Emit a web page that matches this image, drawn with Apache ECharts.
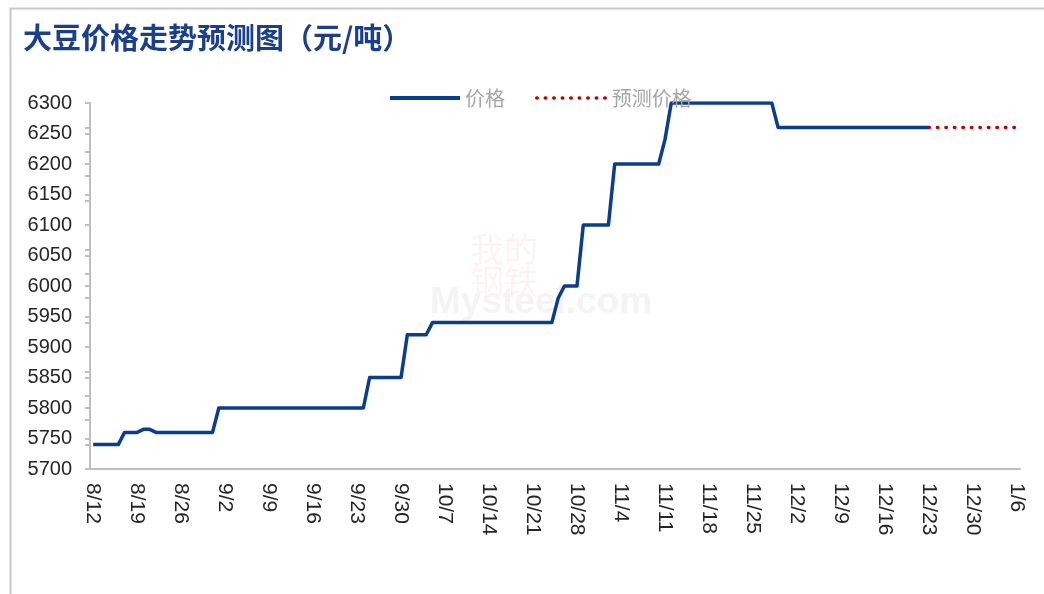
<!DOCTYPE html>
<html>
<head>
<meta charset="utf-8">
<script src="https://cdn.jsdelivr.net/npm/echarts@6/dist/echarts.min.js"></script>
<style>
  html, body { margin: 0; padding: 0; background: #fff; }
  #main { width: 1044px; height: 594px; }
</style>
</head>
<body>
<div id="main"></div>
<script>
// 日期从 2024-08-12 开始，每天一格，到 1/6 为止
var startDate = new Date(2024, 7, 12);
var dayCount = 148;

// 价格（元/吨），8/12 ~ 12/23 每天一个值，每行一周
var price = [
  5740, 5740, 5740, 5740, 5740, 5760, 5760,
  5760, 5765, 5765, 5760, 5760, 5760, 5760,
  5760, 5760, 5760, 5760, 5760, 5760, 5800,
  5800, 5800, 5800, 5800, 5800, 5800, 5800,
  5800, 5800, 5800, 5800, 5800, 5800, 5800,
  5800, 5800, 5800, 5800, 5800, 5800, 5800,
  5800, 5800, 5850, 5850, 5850, 5850, 5850,
  5850, 5920, 5920, 5920, 5920, 5940, 5940,
  5940, 5940, 5940, 5940, 5940, 5940, 5940,
  5940, 5940, 5940, 5940, 5940, 5940, 5940,
  5940, 5940, 5940, 5940, 5980, 6000, 6000,
  6000, 6100, 6100, 6100, 6100, 6100, 6200,
  6200, 6200, 6200, 6200, 6200, 6200, 6200,
  6240, 6300, 6300, 6300, 6300, 6300, 6300,
  6300, 6300, 6300, 6300, 6300, 6300, 6300,
  6300, 6300, 6300, 6300, 6260, 6260, 6260,
  6260, 6260, 6260, 6260, 6260, 6260, 6260,
  6260, 6260, 6260, 6260, 6260, 6260, 6260,
  6260, 6260, 6260, 6260, 6260, 6260, 6260,
  6260
];

// 预测价格，12/23 ~ 1/6
var forecast = [
  6260, 6260, 6260, 6260, 6260, 6260, 6260,
  6260, 6260, 6260, 6260, 6260, 6260, 6260,
  6260
];
var forecastStart = 133;

var yMin = 5700;
var yMax = 6300;
var yStep = 50;

var blue = "#0b3d8f";
var red = "#c00000";

// x轴日期
var days = [];
for (var i = 0; i < dayCount; i++) {
  var d = new Date(startDate.getTime());
  d.setDate(d.getDate() + i);
  days.push((d.getMonth() + 1) + "/" + d.getDate());
}

var forecastData = [];
for (var k = 0; k < dayCount; k++) {
  var j = k - forecastStart;
  forecastData.push(j >= 0 && j < forecast.length ? forecast[j] : null);
}

var myChart = echarts.init(document.getElementById("main"));
myChart.setOption({
  animation: false,
  backgroundColor: "#fff",
  textStyle: { fontFamily: "Liberation Sans, Arial, sans-serif" },
  title: {
    text: "大豆价格走势预测图（元/吨）",
    left: 18,
    top: 18,
    textStyle: {
      fontFamily: "Noto Sans CJK SC",
      fontSize: 29,
      fontWeight: "bold",
      color: "#1b3f8b",
    },
  },
  // 外框 + 水印
  graphic: [
    {
      type: "rect",
      left: 8,
      top: 6,
      shape: { width: 1100, height: 700 },
      style: { fill: null, stroke: "#c8c8c8", lineWidth: 2 },
      silent: true,
    },
    {
      type: "text",
      left: 470,
      top: 232,
      style: {
        text: "我的\n钢铁",
        fill: "#fbf4f4",
        font: "34px 'Noto Sans CJK SC'",
        lineHeight: 32,
      },
      silent: true,
    },
    {
      type: "text",
      left: 430,
      top: 284,
      style: {
        text: "Mysteel.com",
        fill: "#f4f4f4",
        font: "bold 37px 'Liberation Sans'",
      },
      silent: true,
    },
  ],
  legend: {
    left: 383,
    top: 83,
    itemWidth: 70,
    itemHeight: 14,
    itemGap: 30,
    textStyle: {
      fontFamily: "Noto Sans CJK SC",
      fontSize: 20,
      color: "#a6a6a6",
    },
    data: [
      {
        name: "价格",
        itemStyle: { opacity: 0 },
        lineStyle: { color: blue, width: 4 },
      },
      {
        name: "预测价格",
        itemStyle: { opacity: 0 },
        lineStyle: { color: red, width: 3.5, type: [0.5, 8], cap: "round" },
      },
    ],
  },
  grid: {
    left: 90,
    right: 24,
    top: 103,
    bottom: 125,
    containLabel: false,
  },
  xAxis: {
    type: "category",
    data: days,
    boundaryGap: true,
    axisLine: { lineStyle: { color: "#bfbfbf", width: 2 } },
    axisTick: {
      interval: 6,
      length: 5,
      lineStyle: { color: "#bfbfbf", width: 2 },
    },
    axisLabel: {
      interval: 6,
      rotate: -90,
      margin: 14,
      fontSize: 21,
      color: "#262626",
    },
    splitLine: { show: false },
  },
  yAxis: [
    {
      type: "value",
      min: yMin,
      max: yMax,
      interval: yStep,
      axisLine: { show: true, lineStyle: { color: "#bfbfbf", width: 2 } },
      axisTick: { show: true, length: 5, lineStyle: { color: "#bfbfbf", width: 2 } },
      axisLabel: {
        margin: 18,
        fontSize: 20,
        color: "#262626",
        formatter: function (v) { return String(v); },
      },
      splitLine: { show: false },
    },
    {
      // 次刻度
      type: "value",
      min: yMin,
      max: yMax,
      interval: 40,
      position: "left",
      axisLine: { show: false },
      axisTick: { show: true, length: 5, lineStyle: { color: "#bfbfbf", width: 2 } },
      axisLabel: { show: false },
      splitLine: { show: false },
    },
  ],
  series: [
    {
      name: "价格",
      type: "line",
      data: price,
      symbol: "none",
      lineStyle: { color: blue, width: 3.5, join: "round" },
      itemStyle: { color: blue },
    },
    {
      name: "预测价格",
      type: "line",
      data: forecastData,
      symbol: "none",
      lineStyle: { color: red, width: 3.5, type: [0.5, 8], cap: "round" },
      itemStyle: { color: red },
    },
  ],
});
</script>
</body>
</html>
